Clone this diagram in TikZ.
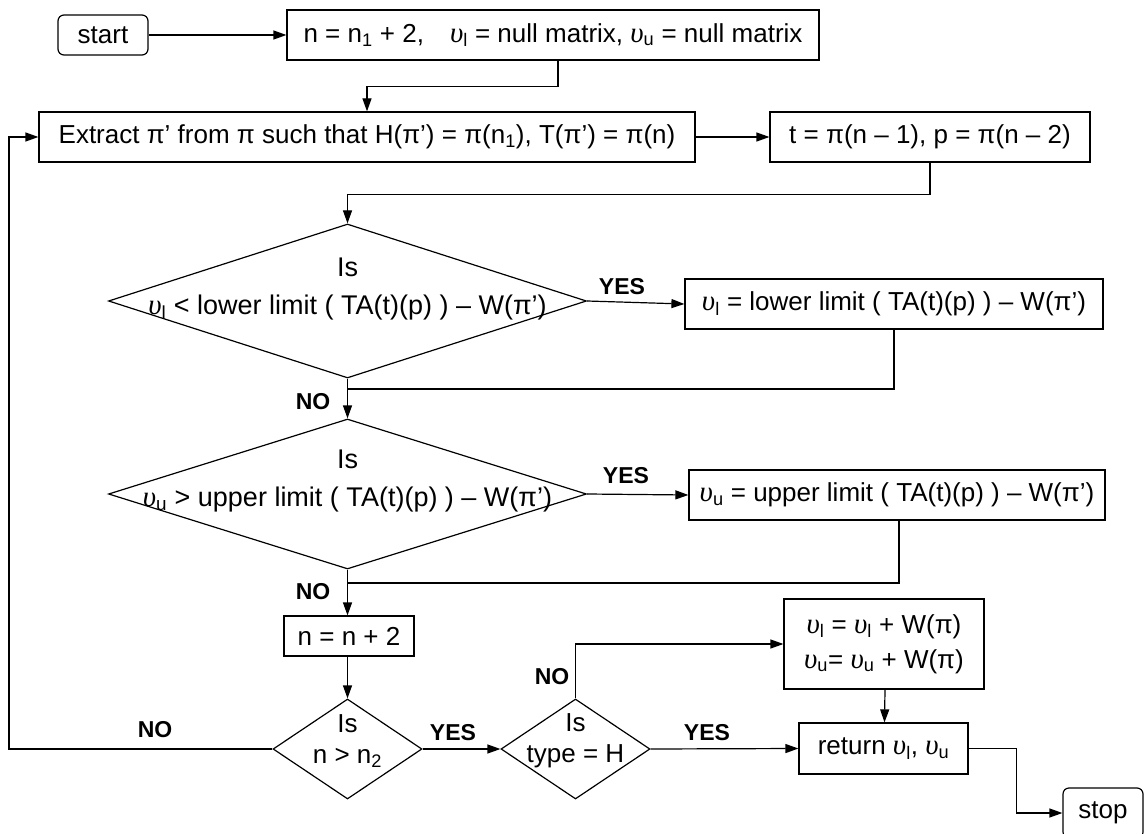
\documentclass[tikz,border=0pt]{standalone}
\usepackage{fontspec}
\setmainfont{Liberation Sans}
\newfontfamily\upsfont{Liberation Serif}
\newcommand{\myups}{{\upsfont\itshape\fontsize{29}{31}\selectfont υ}}
\usetikzlibrary{shapes.geometric,arrows.meta}
\begin{document}
\begin{tikzpicture}[x=1pt,y=-1pt,
  every node/.style={font=\fontsize{26}{31}\selectfont},
  base/.style={draw, line width=1.2pt, inner sep=0pt, align=center},
  procbox/.style={base, rectangle},
  termbox/.style={base, rectangle, rounded corners=6pt},
  decision/.style={base, diamond},
  lbl/.style={font=\fontsize{23}{27}\selectfont\bfseries, inner sep=0pt},
  txt/.style={inner sep=0pt, align=center},
  line/.style={line width=1.2pt},
  arr/.style={line width=1.2pt, -{Triangle[length=13pt,width=9pt]}}
]
\useasboundingbox[fill=white] (0,0) rectangle (1148,834);

% nodes
\node[termbox, minimum width=90pt, minimum height=40pt] (start) at (103,35) {start};
\node[procbox, minimum width=532pt, minimum height=50pt] (init) at (553,35)
  {n = n\textsubscript{1} + 2,\quad \myups\textsubscript{l} = null matrix, \myups\textsubscript{u} = null matrix};
\node[procbox, minimum width=656pt, minimum height=50pt] (extract) at (367,137)
  {Extract π’ from π such that H(π’) = π(n\textsubscript{1}), T(π’) = π(n)};
\node[procbox, minimum width=320pt, minimum height=50pt] (tp) at (930,137)
  {t = π(n – 1), p = π(n – 2)};

\node[decision, minimum width=478pt, minimum height=154pt] (d1) at (347.5,301) {};
\node[txt, font=\fontsize{27}{32}\selectfont] (d1t) at (347.5,289) {Is\\[6pt]\myups\textsubscript{l} < lower limit ( TA(t)(p) ) – W(π’)};
\node[procbox, minimum width=418pt, minimum height=50pt] (lo) at (894,304)
  {\myups\textsubscript{l} = lower limit ( TA(t)(p) ) – W(π’)};

\node[decision, minimum width=478pt, minimum height=150pt] (d2) at (347.5,494) {};
\node[txt, font=\fontsize{27}{32}\selectfont] (d2t) at (347.5,481) {Is\\[6pt]\myups\textsubscript{u} > upper limit ( TA(t)(p) ) – W(π’)};
\node[procbox, minimum width=416pt, minimum height=50pt] (up) at (897,495)
  {\myups\textsubscript{u} = upper limit ( TA(t)(p) ) – W(π’)};

\node[procbox, minimum width=130pt, minimum height=40pt] (inc) at (349,636) {n = n + 2};

\node[decision, minimum width=149pt, minimum height=100pt] (d3) at (347.5,749) {};
\node[txt] (d3t) at (347.5,741) {Is\\[0pt]n > n\textsubscript{2}};
\node[decision, minimum width=149pt, minimum height=100pt] (d4) at (575.5,749) {};
\node[txt] (d4t) at (575.5,741) {Is\\[0pt]type = H};

\node[procbox, minimum width=200pt, minimum height=90pt] (add) at (884,644)
  {\myups\textsubscript{l} = \myups\textsubscript{l} + W(π)\\[4pt]\myups\textsubscript{u}= \myups\textsubscript{u} + W(π)};
\node[procbox, minimum width=169pt, minimum height=51pt] (ret) at (883.5,748.5)
  {return \myups\textsubscript{l}, \myups\textsubscript{u}};
\node[termbox, minimum width=80pt, minimum height=50pt] (stop) at (1103,813) {stop};

% labels
\node[lbl] (y1) at (622,287) {YES};
\node[lbl] (n1) at (313,402) {NO};
\node[lbl] (y2) at (626,476) {YES};
\node[lbl] (n2) at (313,592) {NO};
\node[lbl] (y3) at (453,733) {YES};
\node[lbl] (n3) at (552,677) {NO};
\node[lbl] (y4) at (707,733) {YES};
\node[lbl] (n4) at (155,730) {NO};

% coordinates
\coordinate (j1) at (347.5,389);
\coordinate (j2) at (347.5,583);
\coordinate (fb) at (9,749);

% connectors
\draw[arr] (start.east) -- (init.west);
\draw[arr] ([xshift=5pt]init.south) -- ++(0,26) -| (extract.north);
\draw[arr] (extract.east) -- (tp.west);
\draw[arr] (tp.south) -- ++(0,32) -| (d1.north);
\draw[arr] (d1.east) -- (lo.west);
\draw[line] (lo.south) |- (j1);
\draw[arr] (d1.south) -- (d2.north);
\draw[arr] (d2.east) -- (up.west);
\draw[line] ([xshift=2pt]up.south) |- (j2);
\draw[arr] (d2.south) -- (inc.north -| d2.south);
\draw[arr] (inc.south -| d3.north) -- (d3.north);
\draw[arr] (d3.east) -- (d4.west);
\draw[arr] (d4.north) |- (add.west);
\draw[arr] (d4.east) -- (ret.west);
\draw[arr] ([xshift=1pt]add.south) -- ([xshift=1pt]ret.north);
\draw[arr] (ret.east) -- ++(48,0) |- (stop.west);
\draw[arr] (d3.west) -- (fb) |- (extract.west);
\end{tikzpicture}
\end{document}
